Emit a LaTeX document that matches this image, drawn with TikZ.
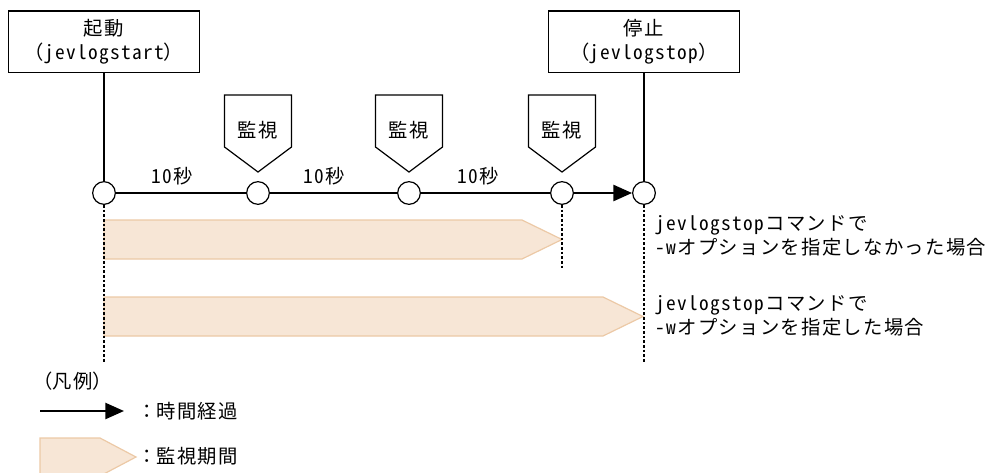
\documentclass[tikz,border=0pt]{standalone}
\usepackage{fontspec}
\setmainfont{Noto Sans CJK JP}[RawFeature=+hwid,LetterSpace=7]
\newfontfamily\fullw{Noto Sans CJK JP}[LetterSpace=7]
\usetikzlibrary{arrows.meta}
\definecolor{periodfill}{RGB}{247,230,214}
\definecolor{periodline}{RGB}{236,201,166}
\newcommand{\lpar}{{\fullw （}}
\newcommand{\rpar}{{\fullw ）}}
\newcommand{\colonw}{{\fullw ：}}
\tikzset{
  cmdbox/.style={draw, line width=1pt, minimum width=143pt, minimum height=46pt, inner sep=0pt, align=center},
  tick/.style={circle, draw, fill=white, line width=0.9pt, minimum size=17pt, inner sep=0pt},
  timeline/.style={line width=1.8pt},
  guide/.style={line width=0.9pt, dash pattern=on 2pt off 1.5pt},
  period/.style={fill=periodfill, draw=periodline, line width=0.9pt},
  flag/.style={draw, line width=0.9pt, fill=white},
  note/.style={anchor=west, align=left, inner sep=0pt}
}
\begin{document}
\begin{tikzpicture}[x=0.75pt,y=-0.75pt,font=\fontsize{14.5}{18}\selectfont,>={Triangle[length=14pt,width=12pt]}]
  \useasboundingbox (0,0) rectangle (996,472);
  % command boxes
  \node[cmdbox] (start) at (104,41.5) {起動\\\lpar jevlogstart\rpar};
  \node[cmdbox] (stop) at (644,41.5) {停止\\\lpar jevlogstop\rpar};
  % monitoring periods
  \draw[period] (104,220) -- (522,220) -- (562,239.5) -- (522,259) -- (104,259) -- cycle;
  \draw[period] (104,297) -- (603,297) -- (643,316.5) -- (603,336) -- (104,336) -- cycle;
  % time line
  \node[tick] (t0) at (104,193) {};
  \foreach \n/\x in {1/258,2/409,3/562} {
    \draw[flag] (\x-33.5,95) -- (\x+33.5,95) -- (\x+33.5,147) -- (\x,172) -- (\x-33.5,147) -- cycle;
    \node (m\n) at (\x,130) {監視};
    \node[tick] (t\n) at (\x,193) {};
  }
  \node[tick] (t4) at (644,193) {};
  \draw[timeline] (t0) -- (t1) -- (t2) -- (t3);
  \draw[timeline,->] (t3) -- (t4);
  \draw[line width=0.9pt] (start) -- (t0);
  \draw[line width=0.9pt] (stop) -- (t4);
  \node (d1) at (172,176) {10秒};
  \node (d2) at (324,176) {10秒};
  \node (d3) at (478,176) {10秒};
  % guide lines
  \coordinate (g0) at (104,362);
  \coordinate (g3) at (562,270);
  \coordinate (g4) at (644,362);
  \draw[guide] (t0) -- (g0);
  \draw[guide] (t3) -- (g3);
  \draw[guide] (t4) -- (g4);
  \node[note] (n1) at (655,236) {jevlogstopコマンドで\\-wオプションを指定しなかった場合};
  \node[note] (n2) at (655,316) {jevlogstopコマンドで\\-wオプションを指定した場合};
  % legend
  \node[anchor=west,inner sep=0pt] (legend) at (33,381) {\lpar 凡例\rpar};
  \coordinate (a0) at (40,411);
  \coordinate (a1) at (124,411);
  \draw[timeline,->] (a0) -- (a1);
  \node[anchor=west,inner sep=0pt] (lt) at (137,411) {\colonw 時間経過};
  \draw[period] (40,438) -- (100,438) -- (136,457) -- (100,476) -- (40,476) -- cycle;
  \node[anchor=west,inner sep=0pt] (lp) at (137,456) {\colonw 監視期間};
\end{tikzpicture}
\end{document}
